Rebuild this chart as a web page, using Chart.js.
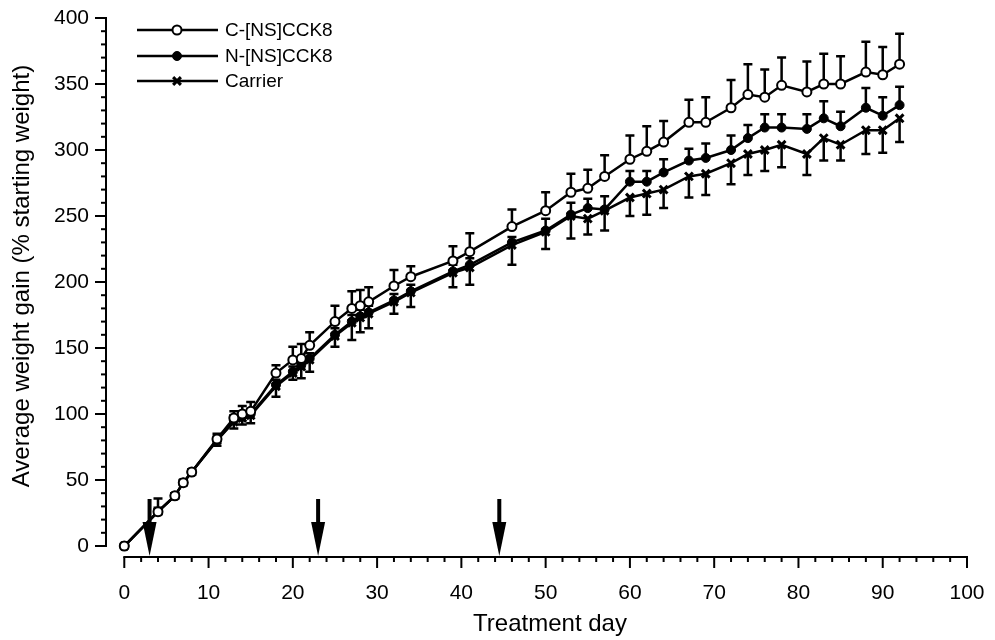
<!DOCTYPE html>
<html>
<head>
<meta charset="utf-8">
<script src="https://cdn.jsdelivr.net/npm/chart.js@4.4.0/dist/chart.umd.min.js"></script>
<style>
  html, body { margin: 0; padding: 0; background: #fff; }
  #wrap { width: 995px; height: 640px; }
</style>
</head>
<body>
<div id="wrap"><canvas id="chart" width="995" height="640"></canvas></div>
<script>
// Treatment days
const days = [0, 4, 6, 7, 8, 11, 13, 14, 15, 18, 20, 21, 22, 25, 27, 28, 29, 32, 34, 39, 41,
              46, 50, 53, 55, 57, 60, 62, 64, 67, 69, 72, 74, 76, 78, 81, 83, 85, 88, 90, 92];

// C-[NS]CCK8 (open circles), error bars drawn upwards
const cNs = [0, 26, 38, 48, 56, 81, 97, 100, 102, 131, 141, 142, 152, 170, 180, 182, 185, 197, 204, 216, 223,
             242, 254, 268, 271, 280, 293, 299, 306, 321, 321, 332, 342, 340, 349, 344, 350, 350, 359, 357, 365];
const cNsErr = [0, 3, 2, 2, 2, 4, 5, 6, 7, 6, 10, 11, 10, 12, 13, 12, 11, 12, 8, 11, 14,
                13, 14, 14, 14, 16, 18, 19, 16, 17, 19, 21, 23, 21, 21, 23, 23, 21, 23, 21, 23];

// N-[NS]CCK8 (filled circles), error bars drawn upwards
const nNs = [0, 26, 38, 48, 56, 80, 95, 98, 100, 122, 132, 137, 142, 160, 170, 174, 177, 186, 193, 208, 213,
             230, 239, 251, 256, 255, 276, 276, 283, 292, 294, 300, 309, 317, 317, 316, 324, 318, 332, 326, 334];
const nNsErr = [0, 10, 2, 2, 2, 3, 4, 4, 4, 4, 4, 4, 4, 5, 5, 5, 5, 5, 5, 5, 5,
                4, 9, 9, 7, 10, 8, 8, 10, 9, 11, 11, 10, 10, 10, 11, 13, 11, 15, 14, 14];

// Carrier (crosses), error bars drawn downwards
const carrier = [0, 26, 38, 48, 56, 80, 94, 97, 99, 121, 131, 136, 141, 159, 169, 173, 176, 185, 192, 207, 211,
                 228, 238, 250, 248, 254, 264, 267, 270, 280, 282, 290, 297, 300, 304, 297, 309, 304, 315, 315, 324];
const carrierErr = [0, 2, 2, 2, 2, 4, 5, 5, 6, 8, 5, 9, 9, 8, 13, 11, 11, 9, 11, 11, 13,
                    15, 13, 17, 12, 15, 14, 16, 14, 16, 16, 16, 16, 16, 17, 16, 17, 12, 18, 17, 18];

const yTicks = [0, 50, 100, 150, 200, 250, 300, 350, 400];
const xTicks = [0, 10, 20, 30, 40, 50, 60, 70, 80, 90, 100];
const arrowDays = [3, 23, 44.5];

const FONT = '"Liberation Sans", Arial, Helvetica, sans-serif';

function pts(vals) {
    return days.map((d, i) => ({ x: d, y: vals[i] }));
}

const errSpec = [
    { err: cNsErr, dir: 1 },
    { err: nNsErr, dir: 1 },
    { err: carrierErr, dir: -1 }
];

// no automatic room for edge labels, layout padding decides the plot box
function noEdgePadding(s) {
    s.paddingTop = 0;
    s.paddingBottom = 0;
    s.paddingLeft = 0;
    s.paddingRight = 0;
}

// error bars + hand-drawn axes (detached, with minor ticks)
const axesAndErrors = {
    id: 'axesAndErrors',
    beforeDatasetsDraw(chart) {
        const ctx = chart.ctx;
        const xs = chart.scales.x, ys = chart.scales.y;
        const area = chart.chartArea;
        ctx.save();
        ctx.strokeStyle = '#000';
        ctx.lineCap = 'butt';

        // y axis
        ctx.lineWidth = 2;
        ctx.beginPath();
        ctx.moveTo(area.left, ys.getPixelForValue(0) + 1);
        ctx.lineTo(area.left, ys.getPixelForValue(400) - 1);
        ctx.stroke();
        for (let v = 0; v <= 400; v += 10) {
            const y = ys.getPixelForValue(v);
            const len = v % 50 === 0 ? 11 : 5;
            ctx.beginPath();
            ctx.moveTo(area.left - len, y);
            ctx.lineTo(area.left, y);
            ctx.stroke();
        }

        // x axis
        const yb = area.bottom;
        ctx.beginPath();
        ctx.moveTo(xs.getPixelForValue(0) - 1, yb);
        ctx.lineTo(xs.getPixelForValue(100) + 1, yb);
        ctx.stroke();
        for (let d = 0; d <= 100; d += 2) {
            const x = xs.getPixelForValue(d);
            const len = d % 10 === 0 ? 11 : 5;
            ctx.beginPath();
            ctx.moveTo(x, yb);
            ctx.lineTo(x, yb + len);
            ctx.stroke();
        }

        // error bars
        ctx.lineWidth = 2.5;
        errSpec.forEach((spec, i) => {
            const vals = chart.data.datasets[i].data;
            vals.forEach((p, j) => {
                const e = spec.err[j];
                if (!e) return;
                const x = xs.getPixelForValue(p.x);
                const y0 = ys.getPixelForValue(p.y);
                const y1 = ys.getPixelForValue(p.y + spec.dir * e);
                ctx.beginPath();
                ctx.moveTo(x, y0);
                ctx.lineTo(x, y1);
                ctx.moveTo(x - 4.5, y1);
                ctx.lineTo(x + 4.5, y1);
                ctx.stroke();
            });
        });
        ctx.restore();
    },
    afterDatasetsDraw(chart) {
        const ctx = chart.ctx;
        const xs = chart.scales.x;
        const area = chart.chartArea;
        ctx.save();
        ctx.fillStyle = '#000';
        ctx.strokeStyle = '#000';

        // injection arrows
        arrowDays.forEach(d => {
            const x = xs.getPixelForValue(d);
            const tip = area.bottom - 1;
            ctx.lineWidth = 4;
            ctx.beginPath();
            ctx.moveTo(x, tip - 57);
            ctx.lineTo(x, tip - 30);
            ctx.stroke();
            ctx.beginPath();
            ctx.moveTo(x - 7, tip - 34);
            ctx.lineTo(x + 7, tip - 34);
            ctx.lineTo(x, tip);
            ctx.closePath();
            ctx.fill();
        });

        // axis titles
        ctx.font = '24px ' + FONT;
        ctx.textAlign = 'center';
        ctx.textBaseline = 'middle';
        ctx.fillText('Treatment day', 550, 624);
        ctx.translate(22, 276);
        ctx.rotate(-Math.PI / 2);
        ctx.fillText('Average weight gain (% starting weight)', 0, 0);
        ctx.restore();

        // legend
        ctx.save();
        const rows = [30, 56, 81];
        chart.data.datasets.forEach((ds, i) => {
            const y = rows[i];
            ctx.strokeStyle = '#000';
            ctx.lineWidth = 2.5;
            ctx.beginPath();
            ctx.moveTo(137, y);
            ctx.lineTo(218, y);
            ctx.stroke();
            ctx.fillStyle = ds.pointBackgroundColor;
            ctx.strokeStyle = '#000';
            ctx.lineWidth = ds.pointBorderWidth;
            Chart.helpers.drawPoint(ctx, {
                pointStyle: ds.pointStyle,
                radius: ds.pointRadius,
                rotation: 0,
                borderWidth: ds.pointBorderWidth
            }, 177, y);
            ctx.fillStyle = '#000';
            ctx.font = '19px ' + FONT;
            ctx.textAlign = 'left';
            ctx.textBaseline = 'middle';
            ctx.fillText(ds.label, 225, y + 1);
        });
        ctx.restore();
    }
};

new Chart(document.getElementById('chart'), {
    type: 'line',
    data: {
        datasets: [
            {
                label: 'C-[NS]CCK8',
                data: pts(cNs),
                borderColor: '#000',
                borderWidth: 2.5,
                pointStyle: 'circle',
                pointRadius: 4.5,
                pointBorderWidth: 2,
                pointBackgroundColor: '#fff',
                pointBorderColor: '#000'
            },
            {
                label: 'N-[NS]CCK8',
                data: pts(nNs),
                borderColor: '#000',
                borderWidth: 2.5,
                pointStyle: 'circle',
                pointRadius: 4.5,
                pointBorderWidth: 1,
                pointBackgroundColor: '#000',
                pointBorderColor: '#000'
            },
            {
                label: 'Carrier',
                data: pts(carrier),
                borderColor: '#000',
                borderWidth: 2.5,
                pointStyle: 'crossRot',
                pointRadius: 5.5,
                pointBorderWidth: 3,
                pointBackgroundColor: '#000',
                pointBorderColor: '#000'
            }
        ]
    },
    options: {
        responsive: false,
        animation: false,
        devicePixelRatio: 1,
        clip: false,
        layout: { padding: { top: 18, right: 28, left: 0, bottom: 0 } },
        plugins: {
            legend: { display: false },
            tooltip: { enabled: false }
        },
        scales: {
            x: {
                type: 'linear',
                min: -2.17,
                max: 100,
                grid: { display: false, drawTicks: false },
                border: { display: false },
                afterBuildTicks: s => { s.ticks = xTicks.map(v => ({ value: v })); },
                afterFit: s => { s.height = 83; noEdgePadding(s); },
                ticks: {
                    color: '#000',
                    padding: 24,
                    maxRotation: 0,
                    font: { family: FONT, size: 21 }
                }
            },
            y: {
                type: 'linear',
                min: -8.33,
                max: 400,
                grid: { display: false, drawTicks: false },
                border: { display: false },
                afterBuildTicks: s => { s.ticks = yTicks.map(v => ({ value: v })); },
                afterFit: s => { s.width = 106; noEdgePadding(s); },
                ticks: {
                    color: '#000',
                    padding: 17,
                    font: { family: FONT, size: 21 }
                }
            }
        }
    },
    plugins: [axesAndErrors]
});
</script>
</body>
</html>
